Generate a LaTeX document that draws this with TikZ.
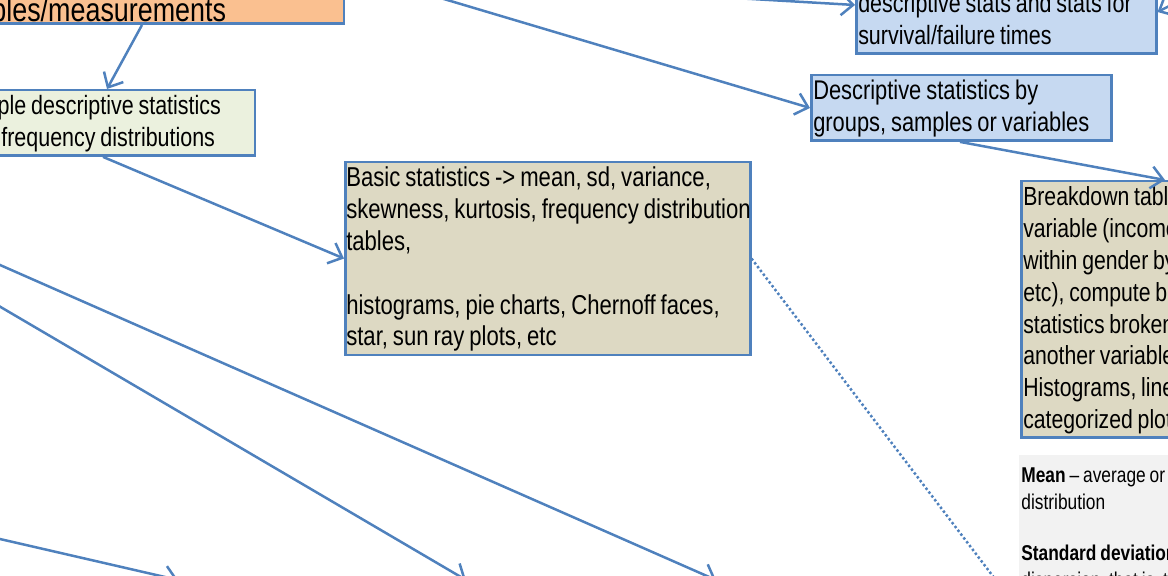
\documentclass[tikz,border=0pt]{standalone}
\usepackage{fontspec}
\setmainfont{Liberation Sans}[FakeStretch=0.81,WordSpace=0.81]
\usetikzlibrary{arrows.meta}

\definecolor{linkblue}{HTML}{4F81BD}
\definecolor{boxorange}{HTML}{FAC090}
\definecolor{boxgreen}{HTML}{EBF1DE}
\definecolor{boxtan}{HTML}{DDD9C3}
\definecolor{boxblue}{HTML}{C6D9F1}
\definecolor{notegray}{HTML}{F2F2F2}

\newcommand{\titlefont}{\fontsize{16.6pt}{20pt}\selectfont}
\newcommand{\boxfont}{\fontsize{13.25pt}{15.9pt}\selectfont}
\newcommand{\notefont}{\fontsize{10.7pt}{13.5pt}\selectfont}
% room above the first line and below the last one
\newcommand{\lead}{\rule{0pt}{11.3pt}}
\newcommand{\trail}{\rule[-3.5pt]{0pt}{3.5pt}}

\begin{document}
\begin{tikzpicture}[x=0.5pt,y=-0.5pt,
  statbox/.style={draw=linkblue,line width=1.25pt,align=flush left,
    anchor=north west,inner xsep=1pt,inner ysep=1pt,font=\boxfont},
  link/.style={linkblue,line width=1.25pt,
    -{Straight Barb[length=6pt,width=11pt]}},
  hint/.style={linkblue,line width=1.25pt,dash pattern=on 1.2pt off 1.2pt}]

  \useasboundingbox (0,0) rectangle (1168,576);
  \clip (0,0) rectangle (1168,576);

  \node [statbox,fill=boxorange,anchor=south east,align=center,
         text width=263.4pt,font=\titlefont] (vars) at (345,25)
        {Variables/measurements};

  \node [statbox,fill=boxgreen,anchor=north east,text width=146pt] (simple)
        at (256,89)
        {\lead Simple descriptive statistics\\
         and frequency distributions\trail};

  \node [statbox,fill=boxtan,text width=201.5pt,inner xsep=0.5pt,
         font=\fontsize{13.65pt}{15.9pt}\selectfont] (basic) at (344,161)
        {\lead Basic statistics -> mean, sd, variance,\\
         \mbox{skewness, kurtosis, frequency distribution}\\
         tables,\\[15.9pt]
         histograms, pie charts, Chernoff faces,\\
         star, sun ray plots, etc\trail};

  \node [statbox,fill=boxblue,anchor=south west,text width=148pt] (surv)
        at (855,55)
        {\lead descriptive stats and stats for\\
         survival/failure times\trail};

  \node [statbox,fill=boxblue,text width=148pt,
         font=\fontsize{13.5pt}{15.9pt}\selectfont] (groups) at (810,74)
        {\lead Descriptive statistics by\\
         groups, samples or variables\trail};

  \node [statbox,fill=boxtan,text width=300pt,
         font=\fontsize{13.1pt}{15.9pt}\selectfont] (breakdown) at (1020,180)
        {\lead Breakdown tables by grouping\\
         variable (income\\
         within gender by age\\
         etc), compute basic\\
         statistics broken down by\\
         another variable,\\
         Histograms, line plots\\
         categorized plots\trail};

  \node [fill=notegray,anchor=north west,align=flush left,text width=300pt,
         inner xsep=1pt,inner ysep=6pt,font=\notefont] (mean) at (1019,455)
        {\textbf{Mean} – average or central value of the\\
         distribution\\[12pt]
         \textbf{Standard deviation} – a measure of\\
         dispersion, that is, the spread of values};

  % ends of the links that run out of view
  \coordinate (upper) at (380,-20);
  \coordinate (lifeleft) at (700,-4);
  \coordinate (liferight) at (1240,-30);
  \coordinate (leftA) at (-100,221);
  \coordinate (tipA) at (716,580);
  \coordinate (leftB) at (-100,248);
  \coordinate (tipB) at (466,580);
  \coordinate (leftC) at (-100,516);
  \coordinate (tipC) at (178,580);
  \coordinate (noteend) at (1011,600);

  \draw [link] (142,0 |- vars.south) -- (107,0 |- simple.north);
  \draw [link] (103,0 |- simple.south) -- (basic.west);
  \draw [link] (upper) -- (groups.west);
  \draw [link] (lifeleft) -- (surv.west |- 0,5);
  \draw [link] (liferight) -- (surv.east |- 0,12);
  \draw [link] (960,0 |- groups.south) -- (1165,0 |- breakdown.north);
  \draw [link] (leftA) -- (tipA);
  \draw [link] (leftB) -- (tipB);
  \draw [link] (leftC) -- (tipC);
  \draw [hint] (basic.east) -- (noteend);

\end{tikzpicture}
\end{document}
